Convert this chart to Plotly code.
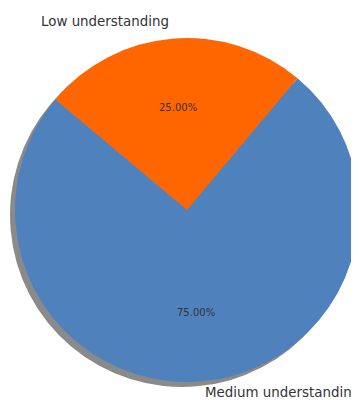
import math
import plotly.graph_objects as go

labels = ["Low understanding", "Medium understanding"]
values = [25, 75]
colors = ["#ff6600", "#4f81bd"]
shadow_color = "#8a8a8a"

# page body has an 8px margin, so the figure is sized to the visible area
OFF = 8
W, H = 359 - OFF, 400 - OFF
cx, cy, r = 187 - OFF, 210 - OFF, 172  # pixel centre (from top-left of figure) and radius
start_math = 50  # matplotlib-style start angle (deg, ccw from 3 o'clock)
sdx, sdy = -5, 5  # shadow offset px

total = sum(values)
# plotly counterclockwise: first slice ends (cw measure) at rotation
rotation = 90 - start_math - 360 * values[0] / total


def dom(cxp, cyp):
    return dict(x=[max(0, (cxp - r) / W), min(1, (cxp + r) / W)],
                y=[(H - cyp - r) / H, (H - cyp + r) / H])


fig = go.Figure()
fig.add_trace(go.Pie(
    labels=labels, values=values, sort=False, direction="counterclockwise",
    rotation=rotation, domain=dom(cx + sdx, cy + sdy),
    marker=dict(colors=[shadow_color] * len(values)), textinfo="none",
    hoverinfo="skip", showlegend=False,
))
fig.add_trace(go.Pie(
    labels=labels, values=values, sort=False, direction="counterclockwise",
    rotation=rotation, domain=dom(cx, cy),
    marker=dict(colors=colors), textinfo="none",
    showlegend=False,
))

ang = start_math
for lab, v in zip(labels, values):
    mid = math.radians(ang + 360 * v / total / 2)
    ang += 360 * v / total
    # outer label
    x = cx + 1.1 * r * math.cos(mid)
    y = cy - 1.1 * r * math.sin(mid)
    y = min(max(y, 10), H - 8)
    fig.add_annotation(
        x=x / W, y=(H - y) / H, xref="paper", yref="paper", text=lab,
        showarrow=False, xanchor="right" if x < cx else "left", yanchor="middle",
        font=dict(family="DejaVu Sans", size=13.4, color="#333333"),
    )
    # percent label
    px = cx + 0.6 * r * math.cos(mid)
    py = cy - 0.6 * r * math.sin(mid)
    fig.add_annotation(
        x=px / W, y=(H - py) / H, xref="paper", yref="paper",
        text=f"{100 * v / total:.2f}%",
        showarrow=False, xanchor="center", yanchor="middle",
        font=dict(family="DejaVu Sans", size=10, color="#333333"),
    )

fig.update_layout(width=W, height=H, margin=dict(l=0, r=0, t=0, b=0),
                  paper_bgcolor="white", plot_bgcolor="white")
fig.write_html("out.html")
